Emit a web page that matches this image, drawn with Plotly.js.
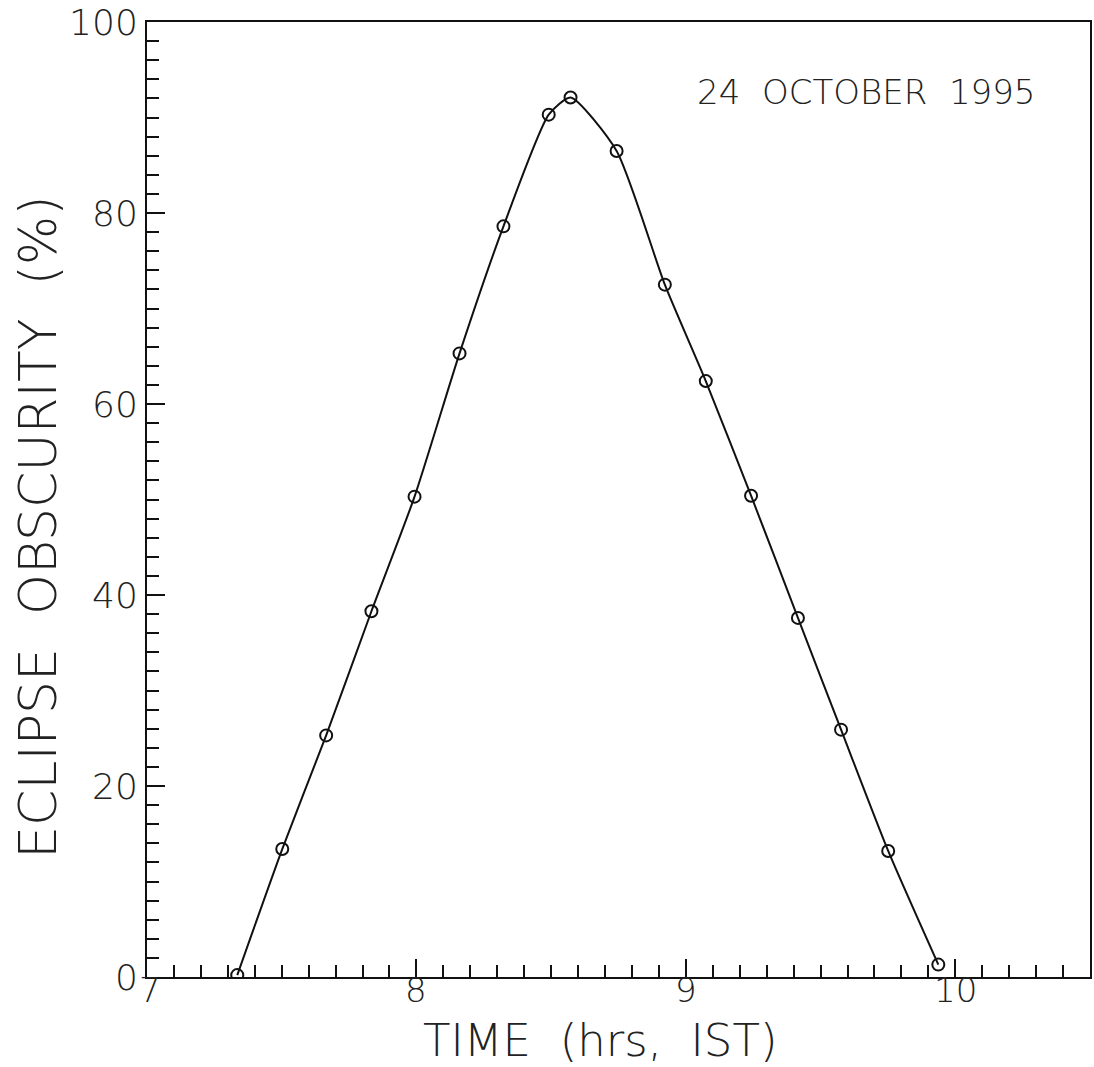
<!DOCTYPE html>
<html><head><meta charset="utf-8">
<script src="https://cdn.plot.ly/plotly-3.0.1.min.js"></script>
<style>body{margin:0;background:#fff}</style>
</head><body>
<div id="chart" style="width:1094px;height:1067px"></div>
<script>
var timeHrs = [7.335, 7.502, 7.665, 7.833, 7.993, 8.160, 8.323, 8.491, 8.572, 8.743, 8.922, 9.074, 9.242, 9.416, 9.576, 9.751, 9.937];
var obscurity = [0.2, 13.4, 25.3, 38.3, 50.3, 65.3, 78.6, 90.3, 92.1, 86.5, 72.5, 62.4, 50.4, 37.6, 25.9, 13.2, 1.3];
var xTicks = [7, 8, 9, 10];
var yTicks = [0, 20, 40, 60, 80, 100];
var dateLabel = '24  OCTOBER  1995';
var xTitle = 'TIME  (hrs,  IST)';
var yTitle = 'ECLIPSE  OBSCURITY  (%)';

var fontFam = 'DejaVu Sans, Liberation Sans, sans-serif';
var fw = 200;
var traces = [{
  x: timeHrs, y: obscurity, type: 'scatter', mode: 'lines+markers',
  line: {color: '#111', width: 2, shape: 'spline', smoothing: 0.6},
  marker: {symbol: 'circle-open', size: 12, color: '#111', line: {width: 2, color: '#111'}},
  hoverinfo: 'skip'
}];

// x tick labels placed through the x scale, snug under the axis as in the original
var xTickLabels = xTicks.map(function (v) {
  return {
    text: String(v), xref: 'x', yref: 'paper', x: v, y: -0.014,
    xanchor: 'center', yanchor: 'middle', showarrow: false,
    xshift: v === xTicks[0] ? 3 : 0,
    font: {size: 34, color: '#222', family: fontFam, weight: fw}
  };
});

var layout = {
  width: 1094, height: 1067,
  margin: {l: 147, r: 4, t: 22, b: 90},
  paper_bgcolor: '#fff', plot_bgcolor: '#fff',
  showlegend: false,
  font: {family: fontFam, color: '#222', weight: fw},
  xaxis: {
    range: [7, 10.5], tickvals: xTicks, showticklabels: false,
    ticks: 'inside', ticklen: 18, tickwidth: 2, tickcolor: '#111',
    minor: {dtick: 0.1, ticks: 'inside', ticklen: 12, tickwidth: 2, tickcolor: '#111', showgrid: false},
    showline: true, linecolor: '#111', linewidth: 2, mirror: true,
    showgrid: false, zeroline: false
  },
  yaxis: {
    range: [0, 100], tickvals: yTicks, ticktext: yTicks.map(String),
    ticks: 'inside', ticklen: 18, tickwidth: 2, tickcolor: '#111',
    minor: {dtick: 2, ticks: 'inside', ticklen: 12, tickwidth: 2, tickcolor: '#111', showgrid: false},
    showline: true, linecolor: '#111', linewidth: 2, mirror: true,
    showgrid: false, zeroline: false,
    tickfont: {size: 36, color: '#222', family: fontFam, weight: fw}
  },
  annotations: xTickLabels.concat([{
    text: dateLabel, xref: 'paper', yref: 'paper', x: 0.944, y: 0.927,
    xanchor: 'right', yanchor: 'middle', showarrow: false,
    font: {size: 34, color: '#222', family: fontFam, weight: fw}
  }, {
    text: xTitle, xref: 'paper', yref: 'paper', x: 0.480, y: -0.067,
    xanchor: 'center', yanchor: 'middle', showarrow: false,
    font: {size: 45, color: '#222', family: fontFam, weight: fw}
  }, {
    text: yTitle, xref: 'paper', yref: 'paper', x: -0.115, y: 0.471, textangle: -90,
    xanchor: 'center', yanchor: 'middle', showarrow: false,
    font: {size: 52, color: '#222', family: fontFam, weight: fw}
  }])
};
Plotly.newPlot('chart', traces, layout, {displayModeBar: false, staticPlot: true});
</script>
</body></html>
